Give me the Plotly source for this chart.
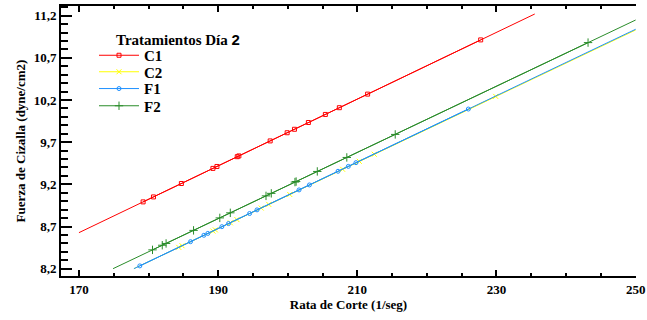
import plotly.graph_objects as go

# ---- data ----
names = ["C1", "C2", "F1", "F2"]
colors = ["#ff0000", "#ffff00", "#1e90ff", "#2a8c2a"]
symbols = ["square-open", "x-thin-open", "circle-open", "cross-thin-open"]
sizes = [4, 5, 4, 6]

c1_x = [179.22, 180.71, 184.72, 189.25, 189.83, 192.75, 192.98, 197.48, 199.92, 200.97, 202.97, 205.41, 207.42, 211.48, 227.73]
c1_y = [8.992, 9.051, 9.210, 9.389, 9.412, 9.528, 9.537, 9.715, 9.812, 9.853, 9.933, 10.029, 10.109, 10.270, 10.913]

c2_x = [184.34, 184.81, 189.25, 189.60, 191.75, 192.70, 196.19, 197.28, 200.29, 207.89, 210.29, 212.44, 229.89]
c2_y = [8.453, 8.472, 8.646, 8.660, 8.744, 8.782, 8.919, 8.962, 9.080, 9.379, 9.473, 9.557, 10.243]

f1_x = [178.75, 186.03, 187.95, 188.52, 190.54, 191.49, 194.52, 195.59, 201.63, 203.12, 207.23, 208.71, 209.81, 225.96]
f1_y = [8.233, 8.520, 8.596, 8.618, 8.698, 8.735, 8.854, 8.897, 9.134, 9.193, 9.355, 9.413, 9.457, 10.093]

f2_x = [180.57, 181.97, 182.52, 186.47, 190.24, 191.75, 196.88, 197.64, 201.04, 201.21, 204.25, 208.49, 215.45, 243.16]
f2_y = [8.423, 8.478, 8.499, 8.654, 8.802, 8.862, 9.063, 9.093, 9.227, 9.233, 9.353, 9.519, 9.792, 10.881]

# fitted regression lines (end points)
c1_line_x = [170.0, 235.5]
c1_line_y = [8.627, 11.22]
c2_line_x = [177.9, 250.0]
c2_line_y = [8.2, 11.03]
f1_line_x = [177.9, 250.0]
f1_line_y = [8.2, 11.039]
f2_line_x = [174.9, 250.0]
f2_line_y = [8.2, 11.149]

x_ticks = [170, 190, 210, 230, 250]
y_ticks = [8.2, 8.7, 9.2, 9.7, 10.2, 10.7, 11.2]
y_ticktext = ["8,2", "8,7", "9,2", "9,7", "10,2", "10,7", "11,2"]

pts = [(c1_x, c1_y), (c2_x, c2_y), (f1_x, f1_y), (f2_x, f2_y)]
lines = [(c1_line_x, c1_line_y), (c2_line_x, c2_line_y), (f1_line_x, f1_line_y), (f2_line_x, f2_line_y)]

SERIF = "Liberation Serif"
W, H = 647, 320
ML, MR, MT, MB = 61, 5, 6, 44
PW = W - ML - MR
PH = H - MT - MB

fig = go.Figure()
legend_ids = ["legend", "legend2", "legend3", "legend4"]
for i in range(4):
    lx, ly = lines[i]
    fig.add_trace(go.Scatter(x=lx, y=ly, mode="lines", line=dict(color=colors[i], width=1),
                             showlegend=False, hoverinfo="skip"))
    px_, py_ = pts[i]
    fig.add_trace(go.Scatter(x=px_, y=py_, mode="lines+markers", name=names[i],
                             line=dict(color=colors[i], width=1),
                             marker=dict(symbol=symbols[i], size=sizes[i], color=colors[i],
                                         line=dict(color=colors[i], width=1)),
                             legend=legend_ids[i]))

# legend item centres (pixels) -> paper
item_py = [55.5, 72.0, 88.8, 106.0]
leg_font = dict(family=SERIF, size=15, color="black", weight="bold")
legend_layout = {}
for i, lid in enumerate(legend_ids):
    legend_layout[lid] = dict(
        x=(94 - ML) / PW, xanchor="left",
        y=(H - MB - item_py[i]) / PH, yanchor="middle",
        bgcolor="rgba(0,0,0,0)", borderwidth=0, font=leg_font,
        itemwidth=40, tracegroupgap=0,
    )

fig.update_layout(
    width=W, height=H,
    margin=dict(l=ML, r=MR, t=MT, b=MB, autoexpand=False),
    paper_bgcolor="white", plot_bgcolor="white",
    font=dict(family=SERIF, color="black"),
    **legend_layout,
    xaxis=dict(
        domain=[0, (636 - ML) / PW],
        range=[167.42, 250.05],
        automargin=False,
        tickvals=x_ticks, ticktext=[str(v) for v in x_ticks],
        ticks="inside", ticklen=6, tickwidth=1.5, tickcolor="black",
        minor=dict(dtick=5, tick0=170, ticks="inside", ticklen=3, tickwidth=1.5, tickcolor="black"),
        showline=True, linewidth=2, linecolor="black", mirror="ticks",
        showgrid=False, zeroline=False,
        tickfont=dict(family=SERIF, size=13, color="black", weight="bold"),
        title=dict(text="Rata de Corte (1/seg)", standoff=3,
                   font=dict(family=SERIF, size=13, color="black", weight="bold")),
    ),
    yaxis=dict(
        range=[8.113, 11.315],
        automargin=False,
        tickvals=y_ticks, ticktext=y_ticktext,
        ticks="inside", ticklen=11, tickwidth=1.5, tickcolor="black",
        minor=dict(dtick=0.1, tick0=8.2, ticks="inside", ticklen=7, tickwidth=1.5, tickcolor="black"),
        showline=True, linewidth=2, linecolor="black", mirror=False,
        showgrid=False, zeroline=False,
        tickfont=dict(family=SERIF, size=13, color="black", weight="bold"),
        title=dict(text="Fuerza de Cizalla (dyne/cm2)", standoff=5,
                   font=dict(family=SERIF, size=13, color="black", weight="bold")),
    ),
    yaxis2=dict(
        overlaying="y", side="right", anchor="free", position=1.0,
        automargin=False,
        range=[8.113, 11.315], tickvals=y_ticks,
        ticks="outside", ticklen=5, tickwidth=1.5, tickcolor="black",
        showticklabels=False, showline=False, showgrid=False, zeroline=False,
    ),
    annotations=[dict(
        text="Tratamientos Día <span style='font-family:Liberation Sans'>2</span>",
        x=(114 - ML) / PW, xref="paper", xanchor="left",
        y=(H - MB - 40) / PH, yref="paper", yanchor="middle",
        showarrow=False, font=dict(family=SERIF, size=15, color="black", weight="bold"),
    )],
)

fig.write_html("out.html", config={"displayModeBar": False},
               post_script="document.body.style.margin='0';")
